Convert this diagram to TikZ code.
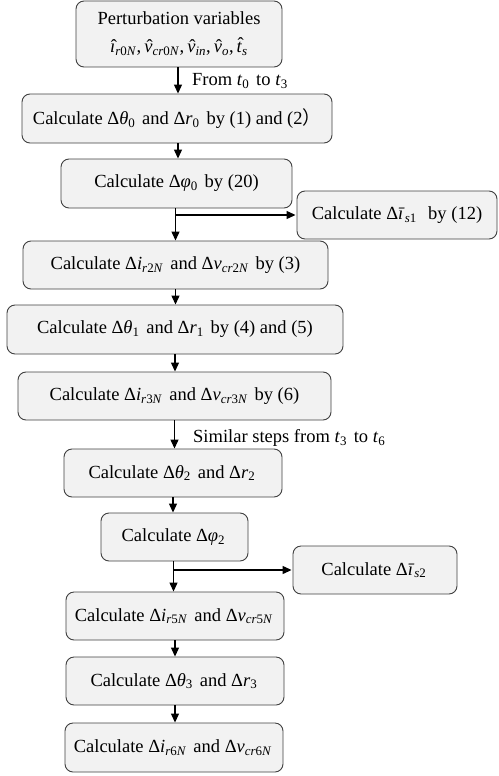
\documentclass[tikz,border=0pt]{standalone}
\usepackage{fontspec}
\setmainfont{Liberation Serif}
\newfontfamily\cjk{Noto Sans CJK SC}
\usetikzlibrary{arrows.meta}
\newcommand{\Sub}[1]{\textsubscript{#1}\hspace{0.12em}}
\newcommand{\SubN}[1]{\textsubscript{#1}}
\newcommand{\Ii}{\textit}
\newcommand{\HatLow}[1]{{\ooalign{\Ii{#1}\cr\hidewidth\kern0.12em ˆ\hidewidth\cr}}}
\newcommand{\HatHigh}[1]{{\ooalign{\Ii{#1}\cr\hidewidth\kern0.12em\raisebox{0.12em}{ˆ}\hidewidth\cr}}}
\tikzset{
  box/.style={draw=black!75, fill=black!5, rounded corners=8pt, line width=0.9pt,
    inner sep=0pt, align=center, font=\fontsize{18.5}{28}\selectfont},
  arr/.style={-{Triangle[length=9pt,width=8pt]}, line width=1.2pt},
  lbl/.style={inner sep=0pt, anchor=west, font=\fontsize{18.5}{22}\selectfont}
}
\begin{document}
\begin{tikzpicture}[x=1pt,y=-1pt]
\useasboundingbox (0,0) rectangle (498,776);
\node[box, minimum width=206pt, minimum height=66pt] (p) at (179,34)
  {Perturbation variables\\
   \HatLow{\i}\SubN{\Ii{r}0\Ii{N}},\,\HatLow{v}\SubN{\Ii{cr}0\Ii{N}},\,\HatLow{v}\SubN{\Ii{in}},\,\HatLow{v}\SubN{\Ii{o}},\,\HatHigh{t}\SubN{\Ii{s}}};
\node[box, minimum width=310pt, minimum height=49pt] (b1) at (177,118.5)
  {Calculate Δ\Ii{θ}\Sub{0} and Δ\Ii{r}\Sub{0} by (1) and (2{\cjk ）}};
\node[box, minimum width=231pt, minimum height=49pt] (b2) at (176.5,183.5)
  {Calculate Δ\Ii{φ}\Sub{0} by (20)};
\node[box, minimum width=200pt, minimum height=48pt] (s1) at (397,215)
  {Calculate Δ\Ii{\={\i}}\Sub{\Ii{s}1}\ \ by (12)};
\node[box, minimum width=305pt, minimum height=48pt] (b3) at (175.5,265)
  {Calculate Δ\Ii{i}\Sub{\Ii{r}2\Ii{N}} and Δ\Ii{v}\Sub{\Ii{cr}2\Ii{N}} by (3)};
\node[box, minimum width=336pt, minimum height=49pt] (b4) at (175,329.5)
  {Calculate Δ\Ii{θ}\Sub{1} and Δ\Ii{r}\Sub{1} by (4) and (5)};
\node[box, minimum width=313pt, minimum height=48pt] (b5) at (174.5,396)
  {Calculate Δ\Ii{i}\Sub{\Ii{r}3\Ii{N}} and Δ\Ii{v}\Sub{\Ii{cr}3\Ii{N}} by (6)};
\node[box, minimum width=218pt, minimum height=48pt] (b6) at (173,473)
  {Calculate Δ\Ii{θ}\Sub{2} and Δ\Ii{r}\Sub{2}};
\node[box, minimum width=147pt, minimum height=48pt] (b7) at (174.5,537)
  {Calculate Δ\Ii{φ}\Sub{2}};
\node[box, minimum width=164pt, minimum height=48pt] (s2) at (375,570)
  {Calculate Δ\Ii{\={\i}}\Sub{\Ii{s}2}};
\node[box, minimum width=218pt, minimum height=48pt] (b8) at (175,616)
  {Calculate Δ\Ii{i}\Sub{\Ii{r}5\Ii{N}} and Δ\Ii{v}\Sub{\Ii{cr}5\Ii{N}}};
\node[box, minimum width=218pt, minimum height=48pt] (b9) at (175,681)
  {Calculate Δ\Ii{θ}\Sub{3} and Δ\Ii{r}\Sub{3}};
\node[box, minimum width=218pt, minimum height=49pt] (b10) at (174,747.5)
  {Calculate Δ\Ii{i}\Sub{\Ii{r}6\Ii{N}} and Δ\Ii{v}\Sub{\Ii{cr}6\Ii{N}}};

\draw[arr] ([xshift=-1pt]p.south) -- ([xshift=-1pt]p.south |- b1.north);
\node[lbl] (l1) at (192,81) {From \Ii{t}\Sub{0} to \Ii{t}\Sub{3}};
\draw[arr] ([xshift=1pt]b1.south) -- ([xshift=1pt]b1.south |- b2.north);
\coordinate (br1) at ([xshift=-1pt]b2.south |- s1.west);
\draw[arr] ([xshift=-1pt]b2.south) -- ([xshift=-1pt]b2.south |- b3.north);
\draw[arr] (br1) -- ([xshift=-1pt]s1.west);
\draw[arr] (b3.south) -- (b3.south |- b4.north);
\draw[arr] (b4.south) -- (b4.south |- b5.north);
\draw[arr] (b5.south) -- (b5.south |- b6.north);
\node[lbl] (l2) at (193,438) {Similar steps from \Ii{t}\Sub{3} to \Ii{t}\Sub{6}};
\draw[arr] (b6.south) -- (b6.south |- b7.north);
\coordinate (br2) at ([xshift=-1pt]b7.south |- s2.west);
\draw[arr] ([xshift=-1pt]b7.south) -- ([xshift=-1pt]b7.south |- b8.north);
\draw[arr] (br2) -- ([xshift=-1pt]s2.west);
\draw[arr] (b8.south) -- (b8.south |- b9.north);
\draw[arr] (b9.south) -- (b9.south |- b10.north);
\end{tikzpicture}
\end{document}
